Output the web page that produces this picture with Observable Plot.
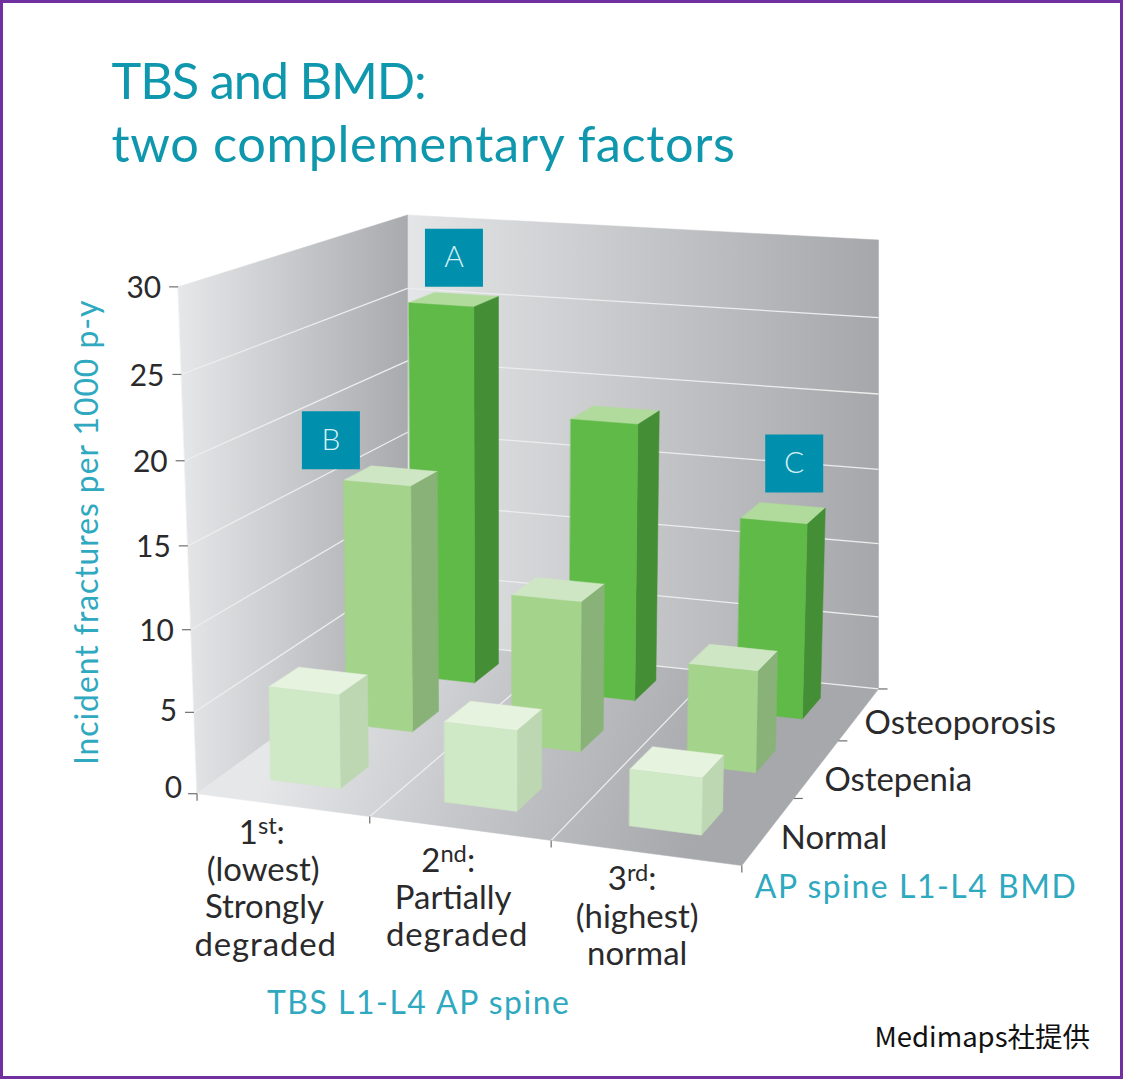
<!DOCTYPE html>
<html>
<head>
<meta charset="utf-8">
<script src="https://cdn.jsdelivr.net/npm/d3@7"></script>
<script src="https://cdn.jsdelivr.net/npm/@observablehq/plot@0.6"></script>
<style>
  html, body { margin: 0; padding: 0; background: #fff; }
  #frame { position: relative; width: 1123px; height: 1079px; box-sizing: border-box; border: 3.5px solid #7030a0; overflow: hidden; font-family: Lato, sans-serif; }
  #chart { position: absolute; left: -3.5px; top: -3.5px; }
  #title { position: absolute; left: 108.5px; top: 45px; margin: 0; font: 400 50.5px/63px Lato, sans-serif; color: #0f97ad; }
  #title .a { letter-spacing: -1.15px; }
  #title .b { letter-spacing: 0.62px; }
  #credit { position: absolute; left: 871.5px; top: 1014px; font: 400 27.5px/37px "Noto Sans CJK JP", sans-serif; color: #111; }
</style>
</head>
<body>
<div id="frame">
  <h1 id="title"><span class="a">TBS and BMD:</span><br><span class="b">two complementary factors</span></h1>
  <div id="chart"></div>
  <div id="credit">Medimaps社提供</div>
</div>
<script>
// ---------- data ----------
const tbsLabels = [
  ["1st:", "(lowest)", "Strongly", "degraded"],
  ["2nd:", "Partially", "degraded"],
  ["3rd:", "(highest)", "normal"]
];
const bmdLabels = ["Normal", "Ostepenia", "Osteoporosis"];
const normalValues = [5.8, 4.9, 3.4];
const osteopeniaValues = [15.9, 9.6, 6.4];
const osteoporosisValues = [25.4, 18.5, 12.9];
const valueTicks = [0, 5, 10, 15, 20, 25, 30];
const callouts = [
  {label: "A", tbs: 0, bmd: 2},
  {label: "B", tbs: 0, bmd: 1},
  {label: "C", tbs: 2, bmd: 2}
];
const series = [normalValues, osteopeniaValues, osteoporosisValues];

// ---------- the drawing's perspective ----------
const A = [197, 795], B = [743, 867], C = [880, 690], D = [408, 641];
const At = [178, 287], Ct = [880, 240], Dt = [408, 215];
const H = {A: 16.93, B: 18, C: 15, D: 14.2};
const colSpan = [[.085, .215], [.41, .545], [.755, .89]];
const rowSpan = [[.13, .27], [.49, .62], [.80, .92]];
const colDiv = [.317, .65];
const bmdTickV = [.38, .706, 1];
const mix = (p, q, t) => [p[0] + (q[0] - p[0]) * t, p[1] + (q[1] - p[1]) * t];
const rise = val => { const t = val / 30; return t - 0.044 * t * (1 - t); };
function floorPt(u, v) {
  return mix(mix(A, B, u), mix(D, C, u), v);
}
function project(u, v, val) {
  const [x, y] = floorPt(u + 0.012 * v, v);
  const s = (1-u)*(1-v)*H.A + u*(1-v)*H.B + u*v*H.C + (1-u)*v*H.D;
  const h = s * 30 * rise(val);
  return [x + (x - 500) * 0.8e-4 * h, y - h];
}
const leftWall = (s, val) => mix(mix(A, D, s), mix(At, Dt, s), rise(val));
const backWall = (s, val) => mix(mix(D, C, s), mix(Dt, Ct, s), rise(val));

// ---------- polygons ----------
const palette = [
  {front: "#cfe8c6", top: "#e6f3df", side: "#bdd7b3"},
  {front: "#a4d38c", top: "#cfe6c4", side: "#88b277"},
  {front: "#60ba47", top: "#b0db9c", side: "#448e35"}
];
const polys = [];
let pid = 0;
const addPoly = (fill, pts) => { pid++; pts.forEach(p => polys.push({id: pid, fill, x: p[0], y: p[1]})); };
addPoly("url(#backGrad)", [backWall(0, 0), backWall(1, 0), backWall(1, 30), backWall(0, 30)]);
addPoly("url(#leftGrad)", [leftWall(0, 0), leftWall(1, 0), leftWall(1, 30), leftWall(0, 30)]);
addPoly("url(#floorGrad)", [A, B, C, D]);
const bars = [];
[2, 1, 0].forEach(r => tbsLabels.forEach((_, c) => bars.push({r, c, value: series[r][c]})));
const barRows = [];
let bid = 0;
bars.forEach(({r, c, value}) => {
  const [u0, u1] = colSpan[c], [v0, v1] = rowSpan[r], pal = palette[r];
  const face = (fill, pts) => { bid++; pts.forEach(p => barRows.push({id: bid, fill, x: p[0], y: p[1]})); };
  const P = project;
  face(pal.top, [P(u0, v0, value), P(u1, v0, value), P(u1, v1, value), P(u0, v1, value)]);
  face(pal.side, [P(u1, v0, 0), P(u1, v1, 0), P(u1, v1, value), P(u1, v0, value)]);
  face(pal.front, [P(u0, v0, 0), P(u1, v0, 0), P(u1, v0, value), P(u0, v0, value)]);
});

// ---------- grid and ticks ----------
const grid = [];
valueTicks.slice(1, -1).forEach(t => {
  grid.push({a: leftWall(0, t), b: leftWall(1, t)});
  grid.push({a: backWall(0, t), b: backWall(1, t)});
});
colDiv.forEach(u => grid.push({a: floorPt(u, 0), b: floorPt(u, 1)}));
grid.push({a: backWall(0, 0), b: backWall(1, 0)});

const ticks = [];
valueTicks.forEach(t => { const p = leftWall(0, t); ticks.push({a: [p[0] - 9, p[1]], b: p}); });
[0, ...colDiv].forEach(u => { const p = floorPt(u, 0); ticks.push({a: p, b: [p[0], p[1] + 7]}); });
ticks.push({a: B, b: [B[0], B[1] + 7]});
bmdTickV.forEach(v => { const p = floorPt(1, v); ticks.push({a: p, b: [p[0] + 9, p[1]]}); });

// ---------- text rows ----------
const valueLabelRows = valueTicks.map(t => {
  const p = leftWall(0, t);
  return {text: String(t), x: p[0] - (t === 0 ? 15 : 17), y: p[1] + (t === 0 ? -5 : t === 5 ? -1 : 2)};
});
const colOffset = [[-17, 29], [-9, 33], [-13, 27]];
const colCenter = colSpan.map(s => (s[0] + s[1]) / 2);
const tbsRows = [];
tbsLabels.forEach((lines, c) => {
  const p = floorPt(colCenter[c], 0);
  lines.forEach((text, i) => {
    const lean = c === 0 ? i * 1.3 : c === 1 ? (i ? 5 + (i - 1) * 4 : 0) : (i ? 5 : 0);
    tbsRows.push({text, x: p[0] + colOffset[c][0] + lean, y: p[1] + colOffset[c][1] + i * 37.3});
  });
});
const bmdOffset = [[-13, 40], [-14, 40], [-14, 35]];
const bmdRows = bmdLabels.map((text, i) => {
  const p = floorPt(1, bmdTickV[i]);
  return {text, x: p[0] + bmdOffset[i][0], y: p[1] + bmdOffset[i][1]};
});
const calloutOffset = {A: [0, -42], B: [-60, -36], C: [11, -50]};
const calloutRows = callouts.map(d => {
  const [u0, u1] = colSpan[d.tbs], [v0, v1] = rowSpan[d.bmd];
  const p = project((u0 + u1) / 2, (v0 + v1) / 2, series[d.bmd][d.tbs]);
  const o = calloutOffset[d.label];
  return {label: d.label, x: p[0] + o[0], y: p[1] + o[1]};
});

// ---------- gradients ----------
const defs = () => {
  const el = d3.create("svg:defs");
  const grad = (id, x1, y1, x2, y2, stops) => {
    const g = el.append("linearGradient").attr("id", id).attr("gradientUnits", "userSpaceOnUse")
      .attr("x1", x1).attr("y1", y1).attr("x2", x2).attr("y2", y2);
    stops.forEach(([o, c]) => g.append("stop").attr("offset", o).attr("stop-color", c));
  };
  grad("leftGrad", 178, 0, 408, 0, [[0, "#e6e7e9"], [1, "#a9aaad"]]);
  grad("backGrad", 408, 0, 880, 0, [[0, "#e4e5e7"], [1, "#a6a7aa"]]);
  grad("floorGrad", 300, 680, 700, 830, [[0, "#e6e7e9"], [.45, "#c6c7ca"], [1, "#a7a8ab"]]);
  return el.node();
};

const teal = "#2fa9bf";
const ink = "#2a2a2c";
const shape = (data) => Plot.line(data, {
  x: "x", y: "y", z: "id", curve: "linear-closed",
  fill: {value: "fill", scale: null}, stroke: {value: "fill", scale: null}, strokeWidth: 0.5
});
const link = (data, stroke, strokeWidth) => Plot.link(data, {
  x1: d => d.a[0], y1: d => d.a[1], x2: d => d.b[0], y2: d => d.b[1], stroke, strokeWidth
});

const plot = Plot.plot({
  width: 1123, height: 1079,
  margin: 0,
  x: {axis: null, domain: [0, 1123], range: [0, 1123]},
  y: {axis: null, domain: [0, 1079], range: [0, 1079]},
  style: {background: "transparent", fontFamily: "Lato, sans-serif", overflow: "visible"},
  marks: [
    defs,
    shape(polys),
    link(grid, "#eceded", 1.3),
    link(ticks, "#6e6e70", 1.2),
    shape(barRows),
    Plot.dot(calloutRows, {x: "x", y: "y", symbol: "square", r: 32.8, fill: "#0090ae", stroke: "none"}),
    Plot.text(calloutRows, {x: "x", y: "y", text: "label", fill: "#d5eff4", fontSize: 30, fontWeight: 300}),
    Plot.text(valueLabelRows, {x: "x", y: "y", text: "text", textAnchor: "end", fill: ink, fontSize: 30}),
    Plot.text(tbsRows, {x: "x", y: "y", text: "text", fill: ink, fontSize: 33}),
    Plot.text(bmdRows, {x: "x", y: "y", text: "text", textAnchor: "start", fill: ink, fontSize: 33}),
    Plot.text(["Incident fractures per 1000 p-y"], {x: () => 87, y: () => 533, text: d => d, rotate: -90, fill: teal, fontSize: 32}),
    Plot.text(["AP spine L1-L4 BMD"], {x: () => 756, y: () => 889, text: d => d, textAnchor: "start", fill: teal, fontSize: 32}),
    Plot.text(["TBS L1-L4 AP spine"], {x: () => 267, y: () => 1006, text: d => d, textAnchor: "start", fill: teal, fontSize: 32})
  ]
});

d3.select(plot).selectAll("text").each(function () {
  const content = this.textContent;
  // the axis titles are widely spaced in the reference
  if (/^Incident/.test(content)) d3.select(this).attr("letter-spacing", 0.95);
  if (/^(AP spine|TBS L1)/.test(content)) d3.select(this).attr("letter-spacing", 1.55);
  if (content === "degraded") d3.select(this).attr("letter-spacing", 0.9);
  // ordinal suffixes are raised as superscripts inside their own text element
  const m = /^(\d)(st|nd|rd):$/.exec(content);
  if (!m) return;
  const t = d3.select(this).text(null);
  t.append("tspan").text(m[1]);
  t.append("tspan").attr("dy", "-0.4em").attr("font-size", "0.72em").text(m[2]);
  t.append("tspan").attr("dy", "0.29em").text(":");
});
document.getElementById("chart").append(plot);
</script>
</body>
</html>
